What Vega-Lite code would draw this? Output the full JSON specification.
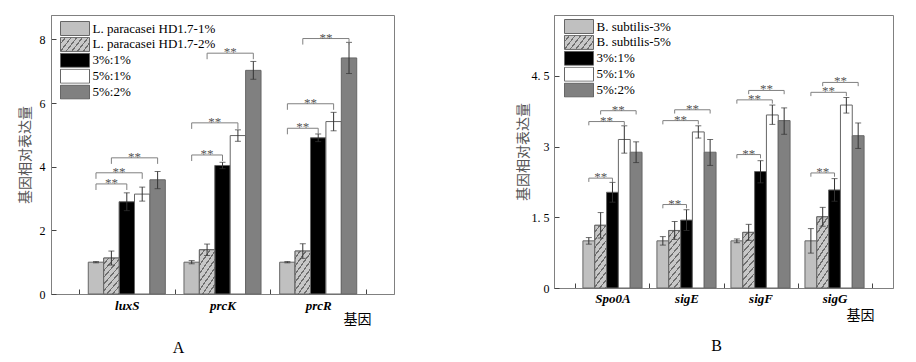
{
  "$schema": "https://vega.github.io/schema/vega-lite/v6.json",
  "padding": {"left": 17, "top": 14, "right": 5, "bottom": 5},
  "spacing": 120,
  "config": {
    "font": "Liberation Serif",
    "view": {"stroke": "#808080", "strokeWidth": 1},
    "axis": {"grid": false, "domainColor": "#808080", "tickColor": "#444", "labelColor": "#000", "labelFont": "Liberation Serif"},
    "legend": {
      "orient": "none",
      "symbolType": "M-1,-1H3.143V1H-1Z",
      "symbolSize": 196,
      "symbolStrokeColor": "#666",
      "symbolStrokeWidth": 1,
      "labelFont": "Liberation Serif",
      "labelFontSize": 13,
      "labelColor": "#000",
      "labelOffset": 17.5,
      "clipHeight": 15,
      "rowPadding": 0.9,
      "padding": 0
    }
  },
  "resolve": {"scale": {"x": "independent", "y": "independent", "xOffset": "independent", "fill": "independent"}},
  "datasets": {
    "barsA": [
      {"gene": "luxS", "series": "L. paracasei HD1.7-1%", "y": 1.0, "lo": 0.98, "hi": 1.02},
      {"gene": "luxS", "series": "L. paracasei HD1.7-2%", "y": 1.13, "lo": 0.91, "hi": 1.35},
      {"gene": "luxS", "series": "3%:1%", "y": 2.9, "lo": 2.62, "hi": 3.18},
      {"gene": "luxS", "series": "5%:1%", "y": 3.14, "lo": 2.92, "hi": 3.36},
      {"gene": "luxS", "series": "5%:2%", "y": 3.59, "lo": 3.31, "hi": 3.85},
      {"gene": "prcK", "series": "L. paracasei HD1.7-1%", "y": 1.0, "lo": 0.95, "hi": 1.05},
      {"gene": "prcK", "series": "L. paracasei HD1.7-2%", "y": 1.39, "lo": 1.21, "hi": 1.57},
      {"gene": "prcK", "series": "3%:1%", "y": 4.04, "lo": 3.94, "hi": 4.14},
      {"gene": "prcK", "series": "5%:1%", "y": 4.98, "lo": 4.8, "hi": 5.16},
      {"gene": "prcK", "series": "5%:2%", "y": 7.03, "lo": 6.75, "hi": 7.31},
      {"gene": "prcR", "series": "L. paracasei HD1.7-1%", "y": 1.0, "lo": 0.98, "hi": 1.02},
      {"gene": "prcR", "series": "L. paracasei HD1.7-2%", "y": 1.35, "lo": 1.12, "hi": 1.58},
      {"gene": "prcR", "series": "3%:1%", "y": 4.91, "lo": 4.79, "hi": 5.03},
      {"gene": "prcR", "series": "5%:1%", "y": 5.42, "lo": 5.13, "hi": 5.71},
      {"gene": "prcR", "series": "5%:2%", "y": 7.42, "lo": 6.93, "hi": 7.91}
    ],
    "bracketsA": [
      {"id": "a1", "ord": 1, "gene": "luxS", "series": "L. paracasei HD1.7-1%", "y": 3.27},
      {"id": "a1", "ord": 2, "gene": "luxS", "series": "L. paracasei HD1.7-1%", "y": 3.46},
      {"id": "a1", "ord": 3, "gene": "luxS", "series": "3%:1%", "y": 3.46},
      {"id": "a1", "ord": 4, "gene": "luxS", "series": "3%:1%", "y": 3.27},
      {"id": "a2", "ord": 1, "gene": "luxS", "series": "L. paracasei HD1.7-1%", "y": 3.62},
      {"id": "a2", "ord": 2, "gene": "luxS", "series": "L. paracasei HD1.7-1%", "y": 3.81},
      {"id": "a2", "ord": 3, "gene": "luxS", "series": "5%:1%", "y": 3.81},
      {"id": "a2", "ord": 4, "gene": "luxS", "series": "5%:1%", "y": 3.62},
      {"id": "a3", "ord": 1, "gene": "luxS", "series": "L. paracasei HD1.7-2%", "y": 4.09},
      {"id": "a3", "ord": 2, "gene": "luxS", "series": "L. paracasei HD1.7-2%", "y": 4.28},
      {"id": "a3", "ord": 3, "gene": "luxS", "series": "5%:2%", "y": 4.28},
      {"id": "a3", "ord": 4, "gene": "luxS", "series": "5%:2%", "y": 4.09},
      {"id": "b1", "ord": 1, "gene": "prcK", "series": "L. paracasei HD1.7-1%", "y": 4.18},
      {"id": "b1", "ord": 2, "gene": "prcK", "series": "L. paracasei HD1.7-1%", "y": 4.37},
      {"id": "b1", "ord": 3, "gene": "prcK", "series": "3%:1%", "y": 4.37},
      {"id": "b1", "ord": 4, "gene": "prcK", "series": "3%:1%", "y": 4.18},
      {"id": "b2", "ord": 1, "gene": "prcK", "series": "L. paracasei HD1.7-1%", "y": 5.19},
      {"id": "b2", "ord": 2, "gene": "prcK", "series": "L. paracasei HD1.7-1%", "y": 5.38},
      {"id": "b2", "ord": 3, "gene": "prcK", "series": "5%:1%", "y": 5.38},
      {"id": "b2", "ord": 4, "gene": "prcK", "series": "5%:1%", "y": 5.19},
      {"id": "b3", "ord": 1, "gene": "prcK", "series": "L. paracasei HD1.7-2%", "y": 7.38},
      {"id": "b3", "ord": 2, "gene": "prcK", "series": "L. paracasei HD1.7-2%", "y": 7.57},
      {"id": "b3", "ord": 3, "gene": "prcK", "series": "5%:2%", "y": 7.57},
      {"id": "b3", "ord": 4, "gene": "prcK", "series": "5%:2%", "y": 7.38},
      {"id": "c1", "ord": 1, "gene": "prcR", "series": "L. paracasei HD1.7-1%", "y": 5.02},
      {"id": "c1", "ord": 2, "gene": "prcR", "series": "L. paracasei HD1.7-1%", "y": 5.21},
      {"id": "c1", "ord": 3, "gene": "prcR", "series": "3%:1%", "y": 5.21},
      {"id": "c1", "ord": 4, "gene": "prcR", "series": "3%:1%", "y": 5.02},
      {"id": "c2", "ord": 1, "gene": "prcR", "series": "L. paracasei HD1.7-1%", "y": 5.79},
      {"id": "c2", "ord": 2, "gene": "prcR", "series": "L. paracasei HD1.7-1%", "y": 5.98},
      {"id": "c2", "ord": 3, "gene": "prcR", "series": "5%:1%", "y": 5.98},
      {"id": "c2", "ord": 4, "gene": "prcR", "series": "5%:1%", "y": 5.79},
      {"id": "c3", "ord": 1, "gene": "prcR", "series": "L. paracasei HD1.7-2%", "y": 7.84},
      {"id": "c3", "ord": 2, "gene": "prcR", "series": "L. paracasei HD1.7-2%", "y": 8.03},
      {"id": "c3", "ord": 3, "gene": "prcR", "series": "5%:2%", "y": 8.03},
      {"id": "c3", "ord": 4, "gene": "prcR", "series": "5%:2%", "y": 7.84}
    ],
    "starsA": [
      {"gene": "luxS", "series": "L. paracasei HD1.7-2%", "y": 3.46, "half": false},
      {"gene": "luxS", "series": "L. paracasei HD1.7-2%", "y": 3.81, "half": true},
      {"gene": "luxS", "series": "3%:1%", "y": 4.28, "half": true},
      {"gene": "prcK", "series": "L. paracasei HD1.7-2%", "y": 4.37, "half": false},
      {"gene": "prcK", "series": "L. paracasei HD1.7-2%", "y": 5.38, "half": true},
      {"gene": "prcK", "series": "3%:1%", "y": 7.57, "half": true},
      {"gene": "prcR", "series": "L. paracasei HD1.7-2%", "y": 5.21, "half": false},
      {"gene": "prcR", "series": "L. paracasei HD1.7-2%", "y": 5.98, "half": true},
      {"gene": "prcR", "series": "3%:1%", "y": 8.03, "half": true}
    ],
    "barsB": [
      {"gene": "Spo0A", "series": "B. subtilis-3%", "y": 1.0, "lo": 0.93, "hi": 1.07},
      {"gene": "Spo0A", "series": "B. subtilis-5%", "y": 1.33, "lo": 1.06, "hi": 1.6},
      {"gene": "Spo0A", "series": "3%:1%", "y": 2.03, "lo": 1.82, "hi": 2.24},
      {"gene": "Spo0A", "series": "5%:1%", "y": 3.15, "lo": 2.86, "hi": 3.44},
      {"gene": "Spo0A", "series": "5%:2%", "y": 2.88, "lo": 2.66, "hi": 3.1},
      {"gene": "sigE", "series": "B. subtilis-3%", "y": 1.0, "lo": 0.91, "hi": 1.09},
      {"gene": "sigE", "series": "B. subtilis-5%", "y": 1.22, "lo": 1.03, "hi": 1.41},
      {"gene": "sigE", "series": "3%:1%", "y": 1.44, "lo": 1.22, "hi": 1.66},
      {"gene": "sigE", "series": "5%:1%", "y": 3.31, "lo": 3.18, "hi": 3.44},
      {"gene": "sigE", "series": "5%:2%", "y": 2.88, "lo": 2.6, "hi": 3.15},
      {"gene": "sigF", "series": "B. subtilis-3%", "y": 1.0, "lo": 0.96, "hi": 1.04},
      {"gene": "sigF", "series": "B. subtilis-5%", "y": 1.18, "lo": 1.01, "hi": 1.35},
      {"gene": "sigF", "series": "3%:1%", "y": 2.47, "lo": 2.23, "hi": 2.7},
      {"gene": "sigF", "series": "5%:1%", "y": 3.67, "lo": 3.47, "hi": 3.88},
      {"gene": "sigF", "series": "5%:2%", "y": 3.55, "lo": 3.26, "hi": 3.82},
      {"gene": "sigG", "series": "B. subtilis-3%", "y": 1.0, "lo": 0.74, "hi": 1.26},
      {"gene": "sigG", "series": "B. subtilis-5%", "y": 1.51, "lo": 1.31, "hi": 1.71},
      {"gene": "sigG", "series": "3%:1%", "y": 2.08, "lo": 1.84, "hi": 2.32},
      {"gene": "sigG", "series": "5%:1%", "y": 3.88, "lo": 3.71, "hi": 4.04},
      {"gene": "sigG", "series": "5%:2%", "y": 3.23, "lo": 2.96, "hi": 3.5}
    ],
    "bracketsB": [
      {"id": "s1", "ord": 1, "gene": "Spo0A", "series": "B. subtilis-3%", "y": 2.25},
      {"id": "s1", "ord": 2, "gene": "Spo0A", "series": "B. subtilis-3%", "y": 2.33},
      {"id": "s1", "ord": 3, "gene": "Spo0A", "series": "3%:1%", "y": 2.33},
      {"id": "s1", "ord": 4, "gene": "Spo0A", "series": "3%:1%", "y": 2.25},
      {"id": "s2", "ord": 1, "gene": "Spo0A", "series": "B. subtilis-3%", "y": 3.45},
      {"id": "s2", "ord": 2, "gene": "Spo0A", "series": "B. subtilis-3%", "y": 3.53},
      {"id": "s2", "ord": 3, "gene": "Spo0A", "series": "5%:1%", "y": 3.53},
      {"id": "s2", "ord": 4, "gene": "Spo0A", "series": "5%:1%", "y": 3.45},
      {"id": "s3", "ord": 1, "gene": "Spo0A", "series": "B. subtilis-5%", "y": 3.68},
      {"id": "s3", "ord": 2, "gene": "Spo0A", "series": "B. subtilis-5%", "y": 3.76},
      {"id": "s3", "ord": 3, "gene": "Spo0A", "series": "5%:2%", "y": 3.76},
      {"id": "s3", "ord": 4, "gene": "Spo0A", "series": "5%:2%", "y": 3.68},
      {"id": "e1", "ord": 1, "gene": "sigE", "series": "B. subtilis-3%", "y": 1.69},
      {"id": "e1", "ord": 2, "gene": "sigE", "series": "B. subtilis-3%", "y": 1.77},
      {"id": "e1", "ord": 3, "gene": "sigE", "series": "3%:1%", "y": 1.77},
      {"id": "e1", "ord": 4, "gene": "sigE", "series": "3%:1%", "y": 1.69},
      {"id": "e2", "ord": 1, "gene": "sigE", "series": "B. subtilis-3%", "y": 3.47},
      {"id": "e2", "ord": 2, "gene": "sigE", "series": "B. subtilis-3%", "y": 3.55},
      {"id": "e2", "ord": 3, "gene": "sigE", "series": "5%:1%", "y": 3.55},
      {"id": "e2", "ord": 4, "gene": "sigE", "series": "5%:1%", "y": 3.47},
      {"id": "e3", "ord": 1, "gene": "sigE", "series": "B. subtilis-5%", "y": 3.7},
      {"id": "e3", "ord": 2, "gene": "sigE", "series": "B. subtilis-5%", "y": 3.78},
      {"id": "e3", "ord": 3, "gene": "sigE", "series": "5%:2%", "y": 3.78},
      {"id": "e3", "ord": 4, "gene": "sigE", "series": "5%:2%", "y": 3.7},
      {"id": "f1", "ord": 1, "gene": "sigF", "series": "B. subtilis-3%", "y": 2.75},
      {"id": "f1", "ord": 2, "gene": "sigF", "series": "B. subtilis-3%", "y": 2.83},
      {"id": "f1", "ord": 3, "gene": "sigF", "series": "3%:1%", "y": 2.83},
      {"id": "f1", "ord": 4, "gene": "sigF", "series": "3%:1%", "y": 2.75},
      {"id": "f2", "ord": 1, "gene": "sigF", "series": "B. subtilis-3%", "y": 3.91},
      {"id": "f2", "ord": 2, "gene": "sigF", "series": "B. subtilis-3%", "y": 3.99},
      {"id": "f2", "ord": 3, "gene": "sigF", "series": "5%:1%", "y": 3.99},
      {"id": "f2", "ord": 4, "gene": "sigF", "series": "5%:1%", "y": 3.91},
      {"id": "f3", "ord": 1, "gene": "sigF", "series": "B. subtilis-5%", "y": 4.11},
      {"id": "f3", "ord": 2, "gene": "sigF", "series": "B. subtilis-5%", "y": 4.19},
      {"id": "f3", "ord": 3, "gene": "sigF", "series": "5%:2%", "y": 4.19},
      {"id": "f3", "ord": 4, "gene": "sigF", "series": "5%:2%", "y": 4.11},
      {"id": "g1", "ord": 1, "gene": "sigG", "series": "B. subtilis-3%", "y": 2.36},
      {"id": "g1", "ord": 2, "gene": "sigG", "series": "B. subtilis-3%", "y": 2.44},
      {"id": "g1", "ord": 3, "gene": "sigG", "series": "3%:1%", "y": 2.44},
      {"id": "g1", "ord": 4, "gene": "sigG", "series": "3%:1%", "y": 2.36},
      {"id": "g2", "ord": 1, "gene": "sigG", "series": "B. subtilis-3%", "y": 4.07},
      {"id": "g2", "ord": 2, "gene": "sigG", "series": "B. subtilis-3%", "y": 4.15},
      {"id": "g2", "ord": 3, "gene": "sigG", "series": "5%:1%", "y": 4.15},
      {"id": "g2", "ord": 4, "gene": "sigG", "series": "5%:1%", "y": 4.07},
      {"id": "g3", "ord": 1, "gene": "sigG", "series": "B. subtilis-5%", "y": 4.28},
      {"id": "g3", "ord": 2, "gene": "sigG", "series": "B. subtilis-5%", "y": 4.36},
      {"id": "g3", "ord": 3, "gene": "sigG", "series": "5%:2%", "y": 4.36},
      {"id": "g3", "ord": 4, "gene": "sigG", "series": "5%:2%", "y": 4.28}
    ],
    "starsB": [
      {"gene": "Spo0A", "series": "B. subtilis-5%", "y": 2.33, "half": false},
      {"gene": "Spo0A", "series": "B. subtilis-5%", "y": 3.53, "half": true},
      {"gene": "Spo0A", "series": "3%:1%", "y": 3.76, "half": true},
      {"gene": "sigE", "series": "B. subtilis-5%", "y": 1.77, "half": false},
      {"gene": "sigE", "series": "B. subtilis-5%", "y": 3.55, "half": true},
      {"gene": "sigE", "series": "3%:1%", "y": 3.78, "half": true},
      {"gene": "sigF", "series": "B. subtilis-5%", "y": 2.83, "half": false},
      {"gene": "sigF", "series": "B. subtilis-5%", "y": 3.99, "half": true},
      {"gene": "sigF", "series": "3%:1%", "y": 4.19, "half": true},
      {"gene": "sigG", "series": "B. subtilis-5%", "y": 2.44, "half": false},
      {"gene": "sigG", "series": "B. subtilis-5%", "y": 4.15, "half": true},
      {"gene": "sigG", "series": "3%:1%", "y": 4.36, "half": true}
    ]
  },
  "hconcat": [
    {
      "width": 343,
      "height": 279,
      "title": {"text": "A", "orient": "bottom", "anchor": "middle", "dx": -44, "offset": 14, "font": "Liberation Serif", "fontSize": 16, "fontWeight": "normal", "color": "#000"},
      "encoding": {
        "x": {"field": "gene", "type": "nominal", "scale": {"domain": ["luxS", "prcK", "prcR"], "paddingInner": 0, "paddingOuter": 0.292},
          "axis": {"title": "基因", "titleFont": "Noto Sans CJK SC", "titleFontSize": 14, "titleFontWeight": "normal", "titleColor": "#000", "titleX": 306, "titleY": 25, "titleAlign": "center", "titleBaseline": "middle", "labelAngle": 0, "labelFont": "Liberation Serif", "labelFontSize": 13, "labelFontStyle": "italic", "labelFontWeight": "bold", "tickBand": "extent", "tickSize": -5, "labelPadding": 10}},
        "xOffset": {"field": "series", "type": "nominal", "scale": {"domain": ["L. paracasei HD1.7-1%", "L. paracasei HD1.7-2%", "3%:1%", "5%:1%", "5%:2%"], "paddingInner": 0, "paddingOuter": 0.605}},
        "y": {"field": "y", "type": "quantitative", "scale": {"domain": [0, 8.77], "nice": false},
          "axis": {"title": "基因相对表达量", "titleFont": "Noto Sans CJK SC", "titleFontSize": 14, "titleFontWeight": "normal", "titleColor": "#555", "values": [0, 2, 4, 6, 8], "format": "d", "labelFont": "Liberation Serif", "labelFontSize": 12, "tickSize": -5, "labelPadding": 11, "titlePadding": 7}}
      },
      "layer": [
        {
          "data": {"name": "barsA"},
          "mark": {"type": "bar", "stroke": "#666", "strokeWidth": 1},
          "encoding": {
            "fill": {"field": "series", "type": "nominal",
              "scale": {"domain": ["L. paracasei HD1.7-1%", "L. paracasei HD1.7-2%", "3%:1%", "5%:1%", "5%:2%"],
                "range": ["#c0c0c0",
                  {"expr": "{gradient: 'linear', x1: 0, y1: 0, x2: 1.205, y2: 0.448, stops: [{offset:0,color:'#c8c8c8'},{offset:0.1071,color:'#c8c8c8'},{offset:0.1071,color:'#6e6e6e'},{offset:0.1429,color:'#6e6e6e'},{offset:0.1429,color:'#c8c8c8'},{offset:0.25,color:'#c8c8c8'},{offset:0.25,color:'#6e6e6e'},{offset:0.2857,color:'#6e6e6e'},{offset:0.2857,color:'#c8c8c8'},{offset:0.3929,color:'#c8c8c8'},{offset:0.3929,color:'#6e6e6e'},{offset:0.4286,color:'#6e6e6e'},{offset:0.4286,color:'#c8c8c8'},{offset:0.5357,color:'#c8c8c8'},{offset:0.5357,color:'#6e6e6e'},{offset:0.5714,color:'#6e6e6e'},{offset:0.5714,color:'#c8c8c8'},{offset:0.6786,color:'#c8c8c8'},{offset:0.6786,color:'#6e6e6e'},{offset:0.7143,color:'#6e6e6e'},{offset:0.7143,color:'#c8c8c8'},{offset:0.8214,color:'#c8c8c8'},{offset:0.8214,color:'#6e6e6e'},{offset:0.8571,color:'#6e6e6e'},{offset:0.8571,color:'#c8c8c8'},{offset:0.9643,color:'#c8c8c8'},{offset:0.9643,color:'#6e6e6e'},{offset:1,color:'#6e6e6e'}]}"},
                  "#000000", "#ffffff", "#808080"]},
              "legend": {"title": null, "legendX": 9, "legendY": 6,
                "encode": {"symbols": {"update": {"stroke": {"value": "#666"}, "strokeWidth": {"value": 1}}}}}}
          }
        },
        {
          "data": {"name": "barsA"},
          "transform": [{"filter": "datum.series === 'L. paracasei HD1.7-2%'"}],
          "mark": {"type": "bar", "stroke": "#666", "strokeWidth": 1,
            "fill": {"gradient": "linear", "x1": 0, "y1": 0, "x2": 0.6, "y2": 1.2, "stops": [
              {"offset": 0, "color": "#c8c8c8"}, {"offset": 0.0938, "color": "#c8c8c8"}, {"offset": 0.0938, "color": "#6e6e6e"}, {"offset": 0.125, "color": "#6e6e6e"},
              {"offset": 0.125, "color": "#c8c8c8"}, {"offset": 0.2188, "color": "#c8c8c8"}, {"offset": 0.2188, "color": "#6e6e6e"}, {"offset": 0.25, "color": "#6e6e6e"},
              {"offset": 0.25, "color": "#c8c8c8"}, {"offset": 0.3438, "color": "#c8c8c8"}, {"offset": 0.3438, "color": "#6e6e6e"}, {"offset": 0.375, "color": "#6e6e6e"},
              {"offset": 0.375, "color": "#c8c8c8"}, {"offset": 0.4688, "color": "#c8c8c8"}, {"offset": 0.4688, "color": "#6e6e6e"}, {"offset": 0.5, "color": "#6e6e6e"},
              {"offset": 0.5, "color": "#c8c8c8"}, {"offset": 0.5938, "color": "#c8c8c8"}, {"offset": 0.5938, "color": "#6e6e6e"}, {"offset": 0.625, "color": "#6e6e6e"},
              {"offset": 0.625, "color": "#c8c8c8"}, {"offset": 0.7188, "color": "#c8c8c8"}, {"offset": 0.7188, "color": "#6e6e6e"}, {"offset": 0.75, "color": "#6e6e6e"},
              {"offset": 0.75, "color": "#c8c8c8"}, {"offset": 0.8438, "color": "#c8c8c8"}, {"offset": 0.8438, "color": "#6e6e6e"}, {"offset": 0.875, "color": "#6e6e6e"},
              {"offset": 0.875, "color": "#c8c8c8"}, {"offset": 0.9688, "color": "#c8c8c8"}, {"offset": 0.9688, "color": "#6e6e6e"}, {"offset": 1, "color": "#6e6e6e"}]}},
          "encoding": {}
        },
        {
          "data": {"name": "barsA"},
          "mark": {"type": "rule", "color": "#333", "strokeWidth": 1},
          "encoding": {
            "y": {"field": "lo", "type": "quantitative", "scale": {"domain": [0, 8.77], "nice": false}, "title": "基因相对表达量"},
            "y2": {"field": "hi"}
          }
        },
        {
          "data": {"name": "barsA"},
          "mark": {"type": "tick", "color": "#333", "thickness": 1, "size": 6, "orient": "horizontal"},
          "encoding": {"y": {"field": "lo", "type": "quantitative", "scale": {"domain": [0, 8.77], "nice": false}, "title": "基因相对表达量"}}
        },
        {
          "data": {"name": "barsA"},
          "mark": {"type": "tick", "color": "#333", "thickness": 1, "size": 6, "orient": "horizontal"},
          "encoding": {"y": {"field": "hi", "type": "quantitative", "scale": {"domain": [0, 8.77], "nice": false}, "title": "基因相对表达量"}}
        },
        {
          "data": {"name": "bracketsA"},
          "mark": {"type": "line", "color": "#808080", "strokeWidth": 1},
          "encoding": {"detail": {"field": "id"}, "order": {"field": "ord", "type": "quantitative"}}
        },
        {
          "data": {"name": "starsA"},
          "transform": [{"filter": "!datum.half"}],
          "mark": {"type": "text", "text": "**", "font": "Liberation Serif", "fontSize": 13, "color": "#555", "baseline": "alphabetic", "dy": 3},
          "encoding": {}
        },
        {
          "data": {"name": "starsA"},
          "transform": [{"filter": "datum.half"}],
          "mark": {"type": "text", "text": "**", "font": "Liberation Serif", "fontSize": 13, "color": "#555", "baseline": "alphabetic", "dy": 3, "dx": 7.7},
          "encoding": {}
        }
      ]
    },
    {
      "width": 339,
      "height": 273,
      "title": {"text": "B", "orient": "bottom", "anchor": "middle", "dx": -7, "offset": 16, "font": "Liberation Serif", "fontSize": 16, "fontWeight": "normal", "color": "#000"},
      "encoding": {
        "x": {"field": "gene", "type": "nominal", "scale": {"domain": ["Spo0A", "sigE", "sigF", "sigG"], "paddingInner": 0, "paddingOuter": 0.29},
          "axis": {"title": "基因", "titleFont": "Noto Sans CJK SC", "titleFontSize": 14, "titleFontWeight": "normal", "titleColor": "#000", "titleX": 306, "titleY": 27, "titleAlign": "center", "titleBaseline": "middle", "labelAngle": 0, "labelFont": "Liberation Serif", "labelFontSize": 13, "labelFontStyle": "italic", "labelFontWeight": "bold", "tickBand": "extent", "tickSize": -5, "labelPadding": 9}},
        "xOffset": {"field": "series", "type": "nominal", "scale": {"domain": ["B. subtilis-3%", "B. subtilis-5%", "3%:1%", "5%:1%", "5%:2%"], "paddingInner": 0, "paddingOuter": 0.63}},
        "y": {"field": "y", "type": "quantitative", "scale": {"domain": [0, 5.79], "nice": false},
          "axis": {"title": "基因相对表达量", "titleFont": "Noto Sans CJK SC", "titleFontSize": 14, "titleFontWeight": "normal", "titleColor": "#555", "values": [0, 1.5, 3, 4.5], "format": ".1~f", "labelExpr": "datum.value === 1.5 ? '1. 5' : datum.value === 4.5 ? '4. 5' : datum.label", "labelFont": "Liberation Serif", "labelFontSize": 12, "tickSize": -5, "labelPadding": 10, "titlePadding": 1}}
      },
      "layer": [
        {
          "data": {"name": "barsB"},
          "mark": {"type": "bar", "stroke": "#666", "strokeWidth": 1},
          "encoding": {
            "fill": {"field": "series", "type": "nominal",
              "scale": {"domain": ["B. subtilis-3%", "B. subtilis-5%", "3%:1%", "5%:1%", "5%:2%"],
                "range": ["#c0c0c0",
                  {"expr": "{gradient: 'linear', x1: 0, y1: 0, x2: 1.205, y2: 0.448, stops: [{offset:0,color:'#c8c8c8'},{offset:0.1071,color:'#c8c8c8'},{offset:0.1071,color:'#6e6e6e'},{offset:0.1429,color:'#6e6e6e'},{offset:0.1429,color:'#c8c8c8'},{offset:0.25,color:'#c8c8c8'},{offset:0.25,color:'#6e6e6e'},{offset:0.2857,color:'#6e6e6e'},{offset:0.2857,color:'#c8c8c8'},{offset:0.3929,color:'#c8c8c8'},{offset:0.3929,color:'#6e6e6e'},{offset:0.4286,color:'#6e6e6e'},{offset:0.4286,color:'#c8c8c8'},{offset:0.5357,color:'#c8c8c8'},{offset:0.5357,color:'#6e6e6e'},{offset:0.5714,color:'#6e6e6e'},{offset:0.5714,color:'#c8c8c8'},{offset:0.6786,color:'#c8c8c8'},{offset:0.6786,color:'#6e6e6e'},{offset:0.7143,color:'#6e6e6e'},{offset:0.7143,color:'#c8c8c8'},{offset:0.8214,color:'#c8c8c8'},{offset:0.8214,color:'#6e6e6e'},{offset:0.8571,color:'#6e6e6e'},{offset:0.8571,color:'#c8c8c8'},{offset:0.9643,color:'#c8c8c8'},{offset:0.9643,color:'#6e6e6e'},{offset:1,color:'#6e6e6e'}]}"},
                  "#000000", "#ffffff", "#808080"]},
              "legend": {"title": null, "legendX": 10, "legendY": 4,
                "encode": {"symbols": {"update": {"stroke": {"value": "#666"}, "strokeWidth": {"value": 1}}}}}}
          }
        },
        {
          "data": {"name": "barsB"},
          "transform": [{"filter": "datum.series === 'B. subtilis-5%'"}],
          "mark": {"type": "bar", "stroke": "#666", "strokeWidth": 1,
            "fill": {"gradient": "linear", "x1": 0, "y1": 0, "x2": 0.29, "y2": 1.175, "stops": [
              {"offset": 0, "color": "#c8c8c8"}, {"offset": 0.075, "color": "#c8c8c8"}, {"offset": 0.075, "color": "#6e6e6e"}, {"offset": 0.1, "color": "#6e6e6e"},
              {"offset": 0.1, "color": "#c8c8c8"}, {"offset": 0.175, "color": "#c8c8c8"}, {"offset": 0.175, "color": "#6e6e6e"}, {"offset": 0.2, "color": "#6e6e6e"},
              {"offset": 0.2, "color": "#c8c8c8"}, {"offset": 0.275, "color": "#c8c8c8"}, {"offset": 0.275, "color": "#6e6e6e"}, {"offset": 0.3, "color": "#6e6e6e"},
              {"offset": 0.3, "color": "#c8c8c8"}, {"offset": 0.375, "color": "#c8c8c8"}, {"offset": 0.375, "color": "#6e6e6e"}, {"offset": 0.4, "color": "#6e6e6e"},
              {"offset": 0.4, "color": "#c8c8c8"}, {"offset": 0.475, "color": "#c8c8c8"}, {"offset": 0.475, "color": "#6e6e6e"}, {"offset": 0.5, "color": "#6e6e6e"},
              {"offset": 0.5, "color": "#c8c8c8"}, {"offset": 0.575, "color": "#c8c8c8"}, {"offset": 0.575, "color": "#6e6e6e"}, {"offset": 0.6, "color": "#6e6e6e"},
              {"offset": 0.6, "color": "#c8c8c8"}, {"offset": 0.675, "color": "#c8c8c8"}, {"offset": 0.675, "color": "#6e6e6e"}, {"offset": 0.7, "color": "#6e6e6e"},
              {"offset": 0.7, "color": "#c8c8c8"}, {"offset": 0.775, "color": "#c8c8c8"}, {"offset": 0.775, "color": "#6e6e6e"}, {"offset": 0.8, "color": "#6e6e6e"},
              {"offset": 0.8, "color": "#c8c8c8"}, {"offset": 0.875, "color": "#c8c8c8"}, {"offset": 0.875, "color": "#6e6e6e"}, {"offset": 0.9, "color": "#6e6e6e"},
              {"offset": 0.9, "color": "#c8c8c8"}, {"offset": 0.975, "color": "#c8c8c8"}, {"offset": 0.975, "color": "#6e6e6e"}, {"offset": 1, "color": "#6e6e6e"}]}},
          "encoding": {}
        },
        {
          "data": {"name": "barsB"},
          "mark": {"type": "rule", "color": "#333", "strokeWidth": 1},
          "encoding": {
            "y": {"field": "lo", "type": "quantitative", "scale": {"domain": [0, 5.79], "nice": false}, "title": "基因相对表达量"},
            "y2": {"field": "hi"}
          }
        },
        {
          "data": {"name": "barsB"},
          "mark": {"type": "tick", "color": "#333", "thickness": 1, "size": 6, "orient": "horizontal"},
          "encoding": {"y": {"field": "lo", "type": "quantitative", "scale": {"domain": [0, 5.79], "nice": false}, "title": "基因相对表达量"}}
        },
        {
          "data": {"name": "barsB"},
          "mark": {"type": "tick", "color": "#333", "thickness": 1, "size": 6, "orient": "horizontal"},
          "encoding": {"y": {"field": "hi", "type": "quantitative", "scale": {"domain": [0, 5.79], "nice": false}, "title": "基因相对表达量"}}
        },
        {
          "data": {"name": "bracketsB"},
          "mark": {"type": "line", "color": "#808080", "strokeWidth": 1},
          "encoding": {"detail": {"field": "id"}, "order": {"field": "ord", "type": "quantitative"}}
        },
        {
          "data": {"name": "starsB"},
          "transform": [{"filter": "!datum.half"}],
          "mark": {"type": "text", "text": "**", "font": "Liberation Serif", "fontSize": 13, "color": "#555", "baseline": "alphabetic", "dy": 3},
          "encoding": {}
        },
        {
          "data": {"name": "starsB"},
          "transform": [{"filter": "datum.half"}],
          "mark": {"type": "text", "text": "**", "font": "Liberation Serif", "fontSize": 13, "color": "#555", "baseline": "alphabetic", "dy": 3, "dx": 5.9},
          "encoding": {}
        }
      ]
    }
  ]
}
